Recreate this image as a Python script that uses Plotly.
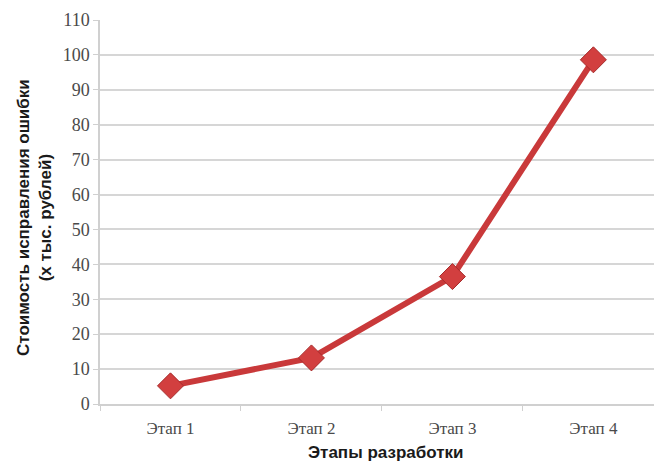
import plotly.graph_objects as go

# Cost of fixing a defect at each development stage (thousand roubles)
stages = ["Этап 1", "Этап 2", "Этап 3", "Этап 4"]
cost = [5.2, 13.2, 36.5, 98.6]

y_ticks = list(range(0, 111, 10))

SERIF = "Times New Roman, Liberation Serif, DejaVu Serif, serif"

fig = go.Figure()
fig.add_trace(go.Scatter(
    x=stages,
    y=cost,
    mode="lines+markers",
    line=dict(color="#C9393A", width=6),
    marker=dict(symbol="diamond", size=20, color="#D23F3F",
                line=dict(color="#A62B2B", width=1)),
    showlegend=False,
))

fig.update_layout(
    width=654,
    height=461,
    margin=dict(l=100, r=0, t=20, b=57),
    paper_bgcolor="white",
    plot_bgcolor="white",
    xaxis=dict(
        type="category",
        range=[-0.5, 3.43],
        tickson="boundaries",
        ticks="outside",
        ticklen=5,
        tickcolor="#D0D0D0",
        showgrid=False,
        showline=True,
        linecolor="#D0D0D0",
        linewidth=1.5,
        ticklabelstandoff=8,
        tickfont=dict(family=SERIF, size=17, color="#4A4A4A"),
        zeroline=False,
    ),
    yaxis=dict(
        range=[0, 110],
        tickvals=y_ticks,
        ticks="outside",
        ticklen=5,
        tickcolor="#D0D0D0",
        showgrid=True,
        gridcolor="#D6D6D6",
        gridwidth=2,
        showline=True,
        linecolor="#D0D0D0",
        linewidth=1.5,
        zeroline=False,
        tickfont=dict(family=SERIF, size=18, color="#4A4A4A"),
    ),
    annotations=[
        dict(
            text="<b>Стоимость исправления ошибки<br>(х тыс. рублей)</b>",
            xref="paper", yref="paper",
            x=(34 - 100) / 554, y=(404 - 218) / 384,
            xanchor="center", yanchor="middle",
            textangle=-90, showarrow=False,
            font=dict(family="Liberation Sans", size=17, color="#1A1A1A"),
        ),
        dict(
            text="<b>Этапы разработки</b>",
            xref="paper", yref="paper",
            x=(385 - 100) / 554, y=-(452 - 404) / 384,
            xanchor="center", yanchor="middle",
            showarrow=False,
            font=dict(family="Liberation Sans", size=17, color="#1A1A1A"),
        ),
    ],
)

fig.write_html("out.html")
